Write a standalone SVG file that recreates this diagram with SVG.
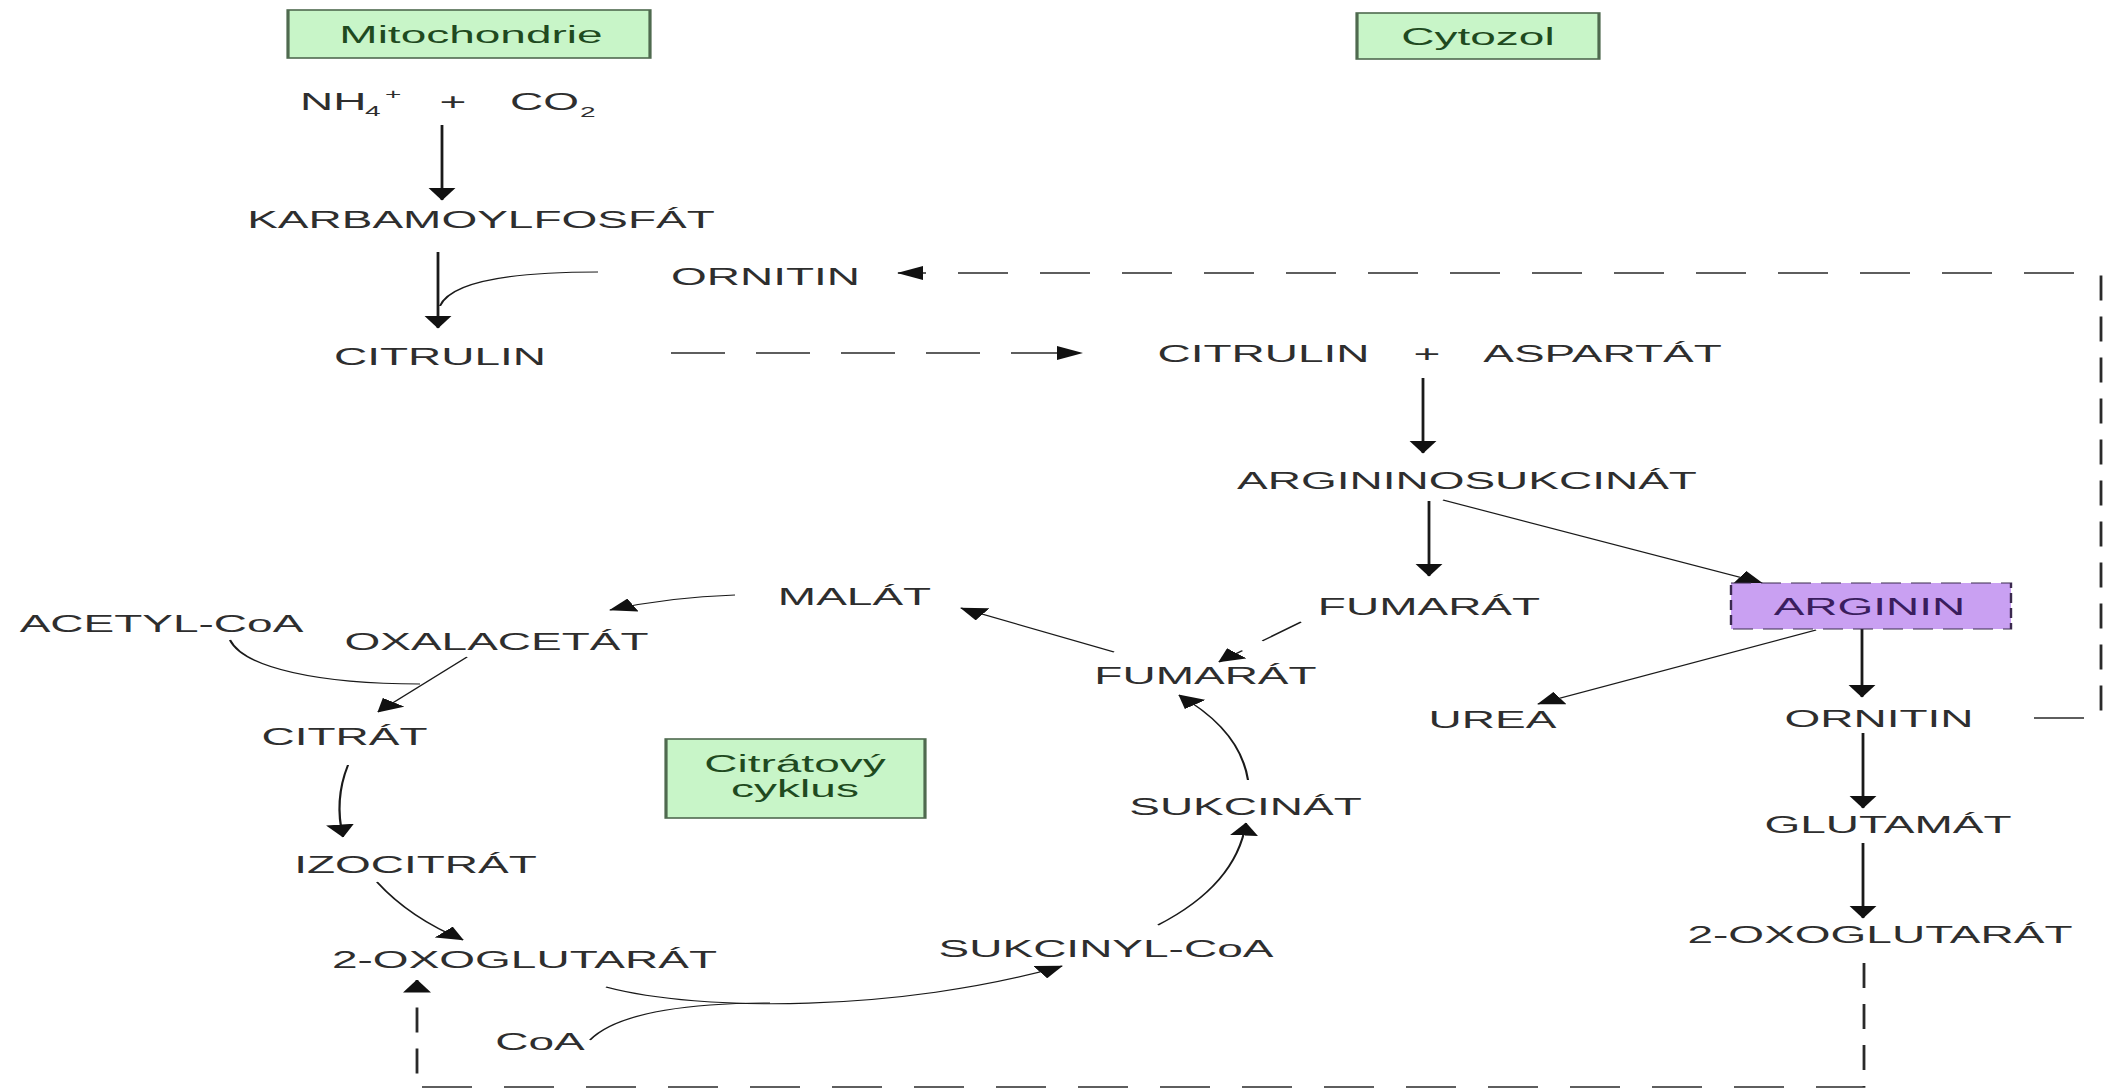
<svg xmlns="http://www.w3.org/2000/svg" width="2116" height="1092" viewBox="0 0 2116 1092">
<style>
.t{font-family:"Liberation Sans",Arial,sans-serif;font-size:23px;fill:#2e2e2e;text-anchor:middle}
.ts{font-family:"Liberation Sans",Arial,sans-serif;font-size:23px;fill:#2e2e2e}
.sm{font-size:14px}
.g{fill:#1f4a1f}
.gbox{fill:#c8f5c8;stroke:#4f6a4f;stroke-width:1.6}
.abox{fill:#c9a0f2;stroke:#3b2a4f;stroke-width:1.2;stroke-dasharray:10 5}
.a{fill:#c9a0f2}
.ln{fill:none;stroke:#1a1a1a;stroke-width:1.4}
.cv{fill:none;stroke:#1a1a1a;stroke-width:1.1}
.dh{fill:none;stroke:#2a2a2a;stroke-width:1.4;stroke-dasharray:27 15.5}
.dl{fill:none;stroke:#2a2a2a;stroke-width:1.4;stroke-dasharray:25 16}
</style>
<defs>
<marker id="ah" viewBox="0 0 13 14" refX="12.5" refY="7" markerWidth="13" markerHeight="14" markerUnits="userSpaceOnUse" orient="auto">
<path d="M0,0 L13,7 L0,14 Z" fill="#111"/>
</marker>
</defs>
<rect width="2116" height="1092" fill="#ffffff"/>
<g transform="scale(2,1)">
<g id="connectors">
<path class="ln" d="M221,125 L221,200" marker-end="url(#ah)"/>
<path class="ln" d="M219,252 L219,328" marker-end="url(#ah)"/>
<path class="cv" d="M299,272 C262,272 226,279 220,306"/>
<path class="dl" d="M1017,718 L1050.5,718 L1050.5,273 L449,273" marker-end="url(#ah)"/>
<path class="dh" d="M335.5,353 L541,353" marker-end="url(#ah)"/>
<path class="ln" d="M711.5,378 L711.5,453" marker-end="url(#ah)"/>
<path class="ln" d="M714.5,501 L714.5,576" marker-end="url(#ah)"/>
<path class="cv" d="M721.5,500 L881,583" marker-end="url(#ah)"/>
<path class="cv" d="M650.5,622 L609.5,662" stroke-dasharray="27 14" marker-end="url(#ah)"/>
<path class="cv" d="M908,630 L769,704" marker-end="url(#ah)"/>
<path class="ln" d="M931,629 L931,697" marker-end="url(#ah)"/>
<path class="ln" d="M931.5,733 L931.5,808" marker-end="url(#ah)"/>
<path class="ln" d="M931.5,843 L931.5,918" marker-end="url(#ah)"/>
<path class="dl" d="M932,963 L932,1087 L208.5,1087 L208.5,980" marker-end="url(#ah)"/>
<path class="cv" d="M557,652 L480.5,608" marker-end="url(#ah)"/>
<path class="cv" d="M367.5,595 Q335,597 305,610" marker-end="url(#ah)"/>
<path class="cv" d="M115,640 C122,668 160,684 210,684"/>
<path class="cv" d="M233.5,657 L189,712" marker-end="url(#ah)"/>
<path class="cv" d="M174,765 Q167,800 171.5,837" marker-end="url(#ah)"/>
<path class="cv" d="M188.5,882 Q205,918 231.5,940" marker-end="url(#ah)"/>
<path class="cv" d="M303,987 C350,1012 450,1012 531,966" marker-end="url(#ah)"/>
<path class="cv" d="M295,1040 C310,1010 350,1003 385,1003"/>
<path class="cv" d="M579,925 Q618,885 623,823" marker-end="url(#ah)"/>
<path class="cv" d="M624,780 Q620,730 589.5,695" marker-end="url(#ah)"/>
</g>
<g id="mitochondrie"><rect class="gbox" x="144" y="10" width="181" height="48"/><text class="t g" x="235.5" y="43">Mitochondrie</text></g>
<g id="cytozol"><rect class="gbox" x="678.5" y="13" width="121" height="46"/><text class="t g" x="739" y="45">Cytozol</text></g>
<g id="citratovy-cyklus"><rect class="gbox" x="333" y="739" width="129.5" height="79"/><text class="t g" x="397.5" y="772">Citrátový</text><text class="t g" x="397.5" y="797">cyklus</text></g>
<g id="nh4"><text class="ts" x="150" y="110">NH<tspan class="sm" x="182.5" y="116">4</tspan><tspan class="sm" x="192.5" y="99">+</tspan></text></g>
<g id="plus1"><text class="t" x="226.5" y="110">+</text></g>
<g id="co2"><text class="ts" x="255" y="110">CO<tspan class="sm" x="290" y="117">2</tspan></text></g>
<g id="karbamoylfosfat"><text class="t" x="240.5" y="228">KARBAMOYLFOSFÁT</text></g>
<g id="ornitin-top"><text class="t" x="382.75" y="285">ORNITIN</text></g>
<g id="citrulin-mito"><text class="t" x="220" y="365">CITRULIN</text></g>
<g id="citrulin-cyto"><text class="t" x="631.75" y="362">CITRULIN</text></g>
<g id="plus2"><text class="t" x="713.5" y="362">+</text></g>
<g id="aspartat"><text class="t" x="801.25" y="362">ASPARTÁT</text></g>
<g id="argininosukcinat"><text class="t" x="733.5" y="489">ARGININOSUKCINÁT</text></g>
<g id="fumarat-urea"><text class="t" x="714.5" y="615">FUMARÁT</text></g>
<g id="arginin"><rect class="abox" x="865.5" y="583" width="140" height="46"/><text class="t" x="934.75" y="615" fill="#3a1d5e" style="fill:#3a1d5e">ARGININ</text></g>
<g id="fumarat-cyklus"><text class="t" x="602.75" y="684">FUMARÁT</text></g>
<g id="urea"><text class="t" x="746.25" y="728">UREA</text></g>
<g id="ornitin-right"><text class="t" x="939.5" y="727">ORNITIN</text></g>
<g id="glutamat"><text class="t" x="944" y="833">GLUTAMÁT</text></g>
<g id="oxoglutarat-right"><text class="t" x="940" y="943">2-OXOGLUTARÁT</text></g>
<g id="malat"><text class="t" x="427.25" y="605">MALÁT</text></g>
<g id="acetyl-coa"><text class="t" x="80.75" y="632">ACETYL-CoA</text></g>
<g id="oxalacetat"><text class="t" x="248.25" y="650">OXALACETÁT</text></g>
<g id="citrat"><text class="t" x="172.25" y="745">CITRÁT</text></g>
<g id="izocitrat"><text class="t" x="207.75" y="873">IZOCITRÁT</text></g>
<g id="oxoglutarat-left"><text class="t" x="262.25" y="968">2-OXOGLUTARÁT</text></g>
<g id="coa"><text class="t" x="270" y="1050">CoA</text></g>
<g id="sukcinat"><text class="t" x="622.75" y="815">SUKCINÁT</text></g>
<g id="sukcinyl-coa"><text class="t" x="553" y="957">SUKCINYL-CoA</text></g>
</g>
</svg>
